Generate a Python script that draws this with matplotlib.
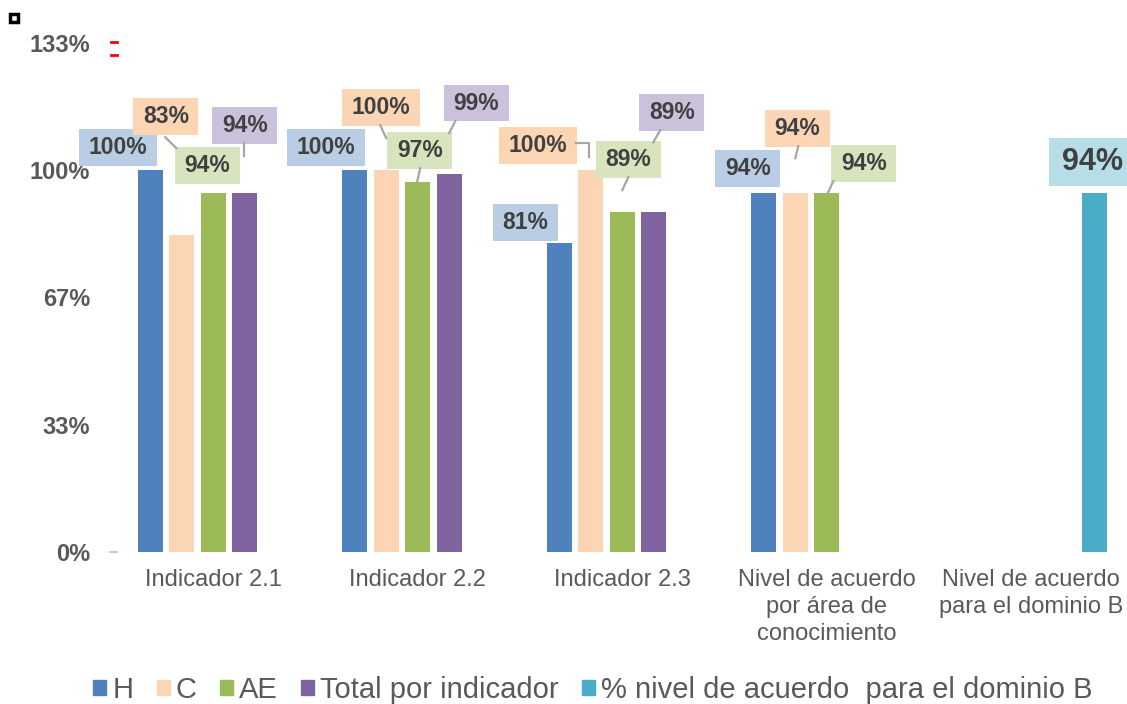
import matplotlib
matplotlib.use('Agg')
import matplotlib.pyplot as plt
from matplotlib.lines import Line2D
from matplotlib.patches import Patch

plt.rcParams['font.family'] = ['Liberation Sans', 'DejaVu Sans']

# data
categories = ['Indicador 2.1', 'Indicador 2.2', 'Indicador 2.3',
              'Nivel de acuerdo\npor área de\nconocimiento',
              'Nivel de acuerdo\npara el dominio B']
series_names = ['H', 'C', 'AE', 'Total por indicador',
                '% nivel de acuerdo  para el dominio B']
h_vals = [1.00, 1.00, 0.81, 0.94, None]
c_vals = [0.83, 1.00, 1.00, 0.94, None]
ae_vals = [0.94, 0.97, 0.89, 0.94, None]
total_vals = [0.94, 0.99, 0.89, None, None]
dominio_vals = [None, None, None, None, 0.94]
ytick_vals = [0, 1 / 3, 2 / 3, 1, 4 / 3]
ytick_labels = ['0%', '33%', '67%', '100%', '133%']

all_series = [h_vals, c_vals, ae_vals, total_vals, dominio_vals]
bar_colors = ['#4F81BD', '#FCD5B5', '#9BBB59', '#8064A2', '#4BACC6']
box_colors = ['#B9CDE5', '#FCD5B5', '#D7E4BD', '#CCC1DA', '#B7DEE8']

# label offsets from bar top (pixels, up is positive)
label_off = {
    (0, 0): (-32, 23), (1, 0): (-16, 119), (2, 0): (-6, 28), (3, 0): (0, 68),
    (0, 1): (-29, 23), (1, 1): (-5, 63), (2, 1): (2, 31), (3, 1): (27, 71),
    (0, 2): (-34, 20), (1, 2): (-53, 25), (2, 2): (6, 53), (3, 2): (18, 100),
    (0, 3): (-16, 25), (1, 3): (2, 65), (2, 3): (37, 30),
    (4, 4): (-2, 31),
}
# leader lines, points relative to bar top (pixels)
leaders = {
    (1, 0): [(-16.5, 98), (-5.5, 87)],
    (3, 0): [(-0.5, 50), (-0.5, 37)],
    (1, 1): [(-6, 45), (0, 32)],
    (2, 1): [(2.5, 13.5), (-0.5, 0.5)],
    (3, 1): [(6, 53), (0, 41)],
    (1, 2): [(-14.5, 27), (-1.5, 27), (-1.5, 13)],
    (2, 2): [(6, 35), (0, 22)],
    (3, 2): [(6.5, 82), (-0.5, 70)],
    (1, 3): [(3, 47), (0, 35)],
    (2, 3): [(6.5, 12), (0.5, -1)],
}

fig = plt.figure(figsize=(11.27, 7.04), dpi=100)
ax = fig.add_axes([111 / 1127, 152 / 704, 1016 / 1127, 509 / 704])
ax.set_xlim(-0.5, 4.468)
ax.set_ylim(0, 4 / 3)

step = 0.154
width = 0.122
for s, vals in enumerate(all_series):
    for g, v in enumerate(vals):
        if v is None:
            continue
        ax.bar(g + (s - 2) * step, v, width=width, color=bar_colors[s], linewidth=0, zorder=2)

# leader lines (drawn in figure coords)
to_fig = fig.transFigure.inverted()
for (s, g), pts in leaders.items():
    bx, by = ax.transData.transform((g + (s - 2) * step, all_series[s][g]))
    xs, ys = [], []
    for dx, dy in pts:
        fx, fy = to_fig.transform((bx + dx, by + dy))
        xs.append(fx)
        ys.append(fy)
    fig.add_artist(Line2D(xs, ys, color='#A6A6A6', lw=1.6, transform=fig.transFigure, zorder=3))

# data labels
for (s, g), (dx, dy) in label_off.items():
    v = all_series[s][g]
    fs = 22 if s == 4 else 16.5
    ax.annotate('{:.0%}'.format(v), xy=(g + (s - 2) * step, v), xytext=(dx, dy),
                textcoords='offset pixels', ha='center', va='center',
                fontsize=fs, fontweight='bold', color='#404040', zorder=5,
                annotation_clip=False,
                bbox=dict(boxstyle='square,pad=0.42', mutation_aspect=0.72,
                          fc=box_colors[s], ec='none'))

for sp in ax.spines.values():
    sp.set_visible(False)
ax.set_yticks(ytick_vals, ytick_labels)
ax.set_xticks(range(len(categories)), categories)
ax.tick_params(axis='y', length=0, pad=15, labelsize=17, labelcolor='#595959')
ax.tick_params(axis='x', length=0, pad=12, labelsize=17, labelcolor='#595959')
for t in ax.get_yticklabels():
    t.set_fontweight('bold')
for t in ax.get_xticklabels():
    t.set_linespacing(1.3)

# small marks at the left edge
ax.plot([-0.001, 0.006], [0, 0], color='#BFBFBF', lw=1.2,
        transform=ax.get_yaxis_transform(), clip_on=False)
for yv in [1.335, 1.301]:
    ax.plot([0.0, 0.006], [yv, yv], color='red', lw=2,
            transform=ax.get_yaxis_transform(), clip_on=False)
fig.add_artist(Line2D([14 / 1127], [1 - 18 / 704], marker='s', ms=6, mfc='white',
                      mec='black', mew=2.5, transform=fig.transFigure))

handles = [Patch(color=c) for c in bar_colors]
fig.legend(handles, series_names, loc='center', bbox_to_anchor=(0.526, 0.02),
           ncol=5, frameon=False, fontsize=21, handlelength=0.45, handleheight=0.45,
           handletextpad=0.2, columnspacing=0.8, labelcolor='#595959')

fig.savefig('out.png', dpi=100)
